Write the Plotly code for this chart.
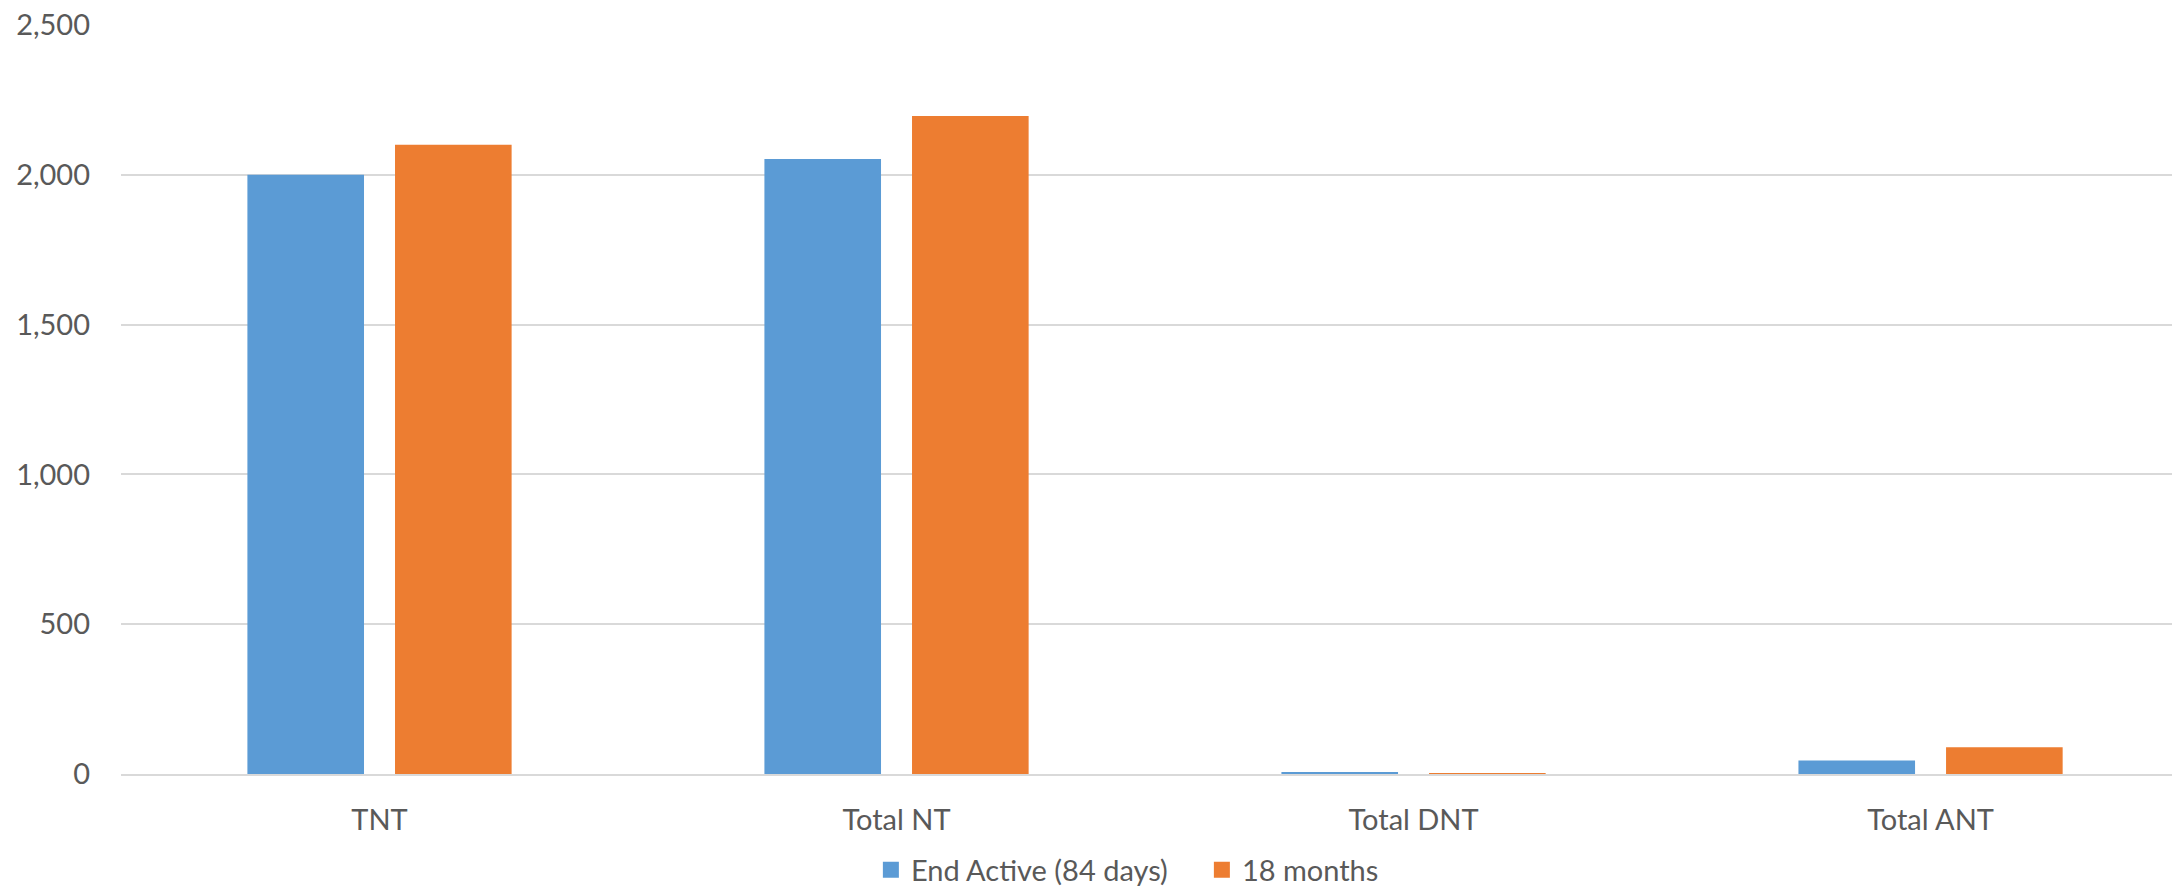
import plotly.graph_objects as go

categories = ["TNT", "Total NT", "Total DNT", "Total ANT"]
series_names = ["End Active (84 days)", "18 months"]
end_active = [2000, 2053, 6, 45]
months_18 = [2100, 2196, 3, 89]
y_ticks = [0, 500, 1000, 1500, 2000, 2500]

BLUE = "#5B9BD5"
ORANGE = "#ED7D31"
TEXT = "#595959"
GRID = "#D9D9D9"

fig = go.Figure()
for name, values, color in zip(series_names, [end_active, months_18], [BLUE, ORANGE]):
    fig.add_trace(go.Bar(name=name, x=categories, y=values, legendgroup=name,
                         showlegend=False, marker=dict(color=color, line=dict(width=0))))
    # legend key drawn as a larger square swatch
    fig.add_trace(go.Scatter(name=name, x=[None], y=[None], mode="markers",
                             legendgroup=name, showlegend=True,
                             marker=dict(symbol="square", size=16, color=color)))

fig.update_layout(
    width=2172, height=888,
    margin=dict(l=121, r=0, t=25, b=114, autoexpand=False),
    paper_bgcolor="white", plot_bgcolor="white",
    barmode="group", bargap=0.429, bargroupgap=0.21,
    font=dict(family="Lato, Calibri, sans-serif", size=29, color=TEXT),
    showlegend=True,
    legend=dict(orientation="h", x=0.527, xanchor="center", y=-0.1282, yanchor="middle",
                font=dict(size=29, color=TEXT), itemclick=False, traceorder="normal",
                itemwidth=30, tracegroupgap=0, entrywidth=286, entrywidthmode="pixels"),
    hovermode=False,
)
# the category axis runs a little past the right edge of the canvas
fig.update_xaxes(range=[-0.5, 3.467], showgrid=False, showline=True, linecolor=GRID,
                 linewidth=2, ticks="", ticklabelstandoff=19, fixedrange=True,
                 automargin=False)
fig.update_yaxes(range=[0, 2500], tickvals=y_ticks, tickformat=",", showgrid=True,
                 gridcolor=GRID, gridwidth=2, zeroline=False, showline=False,
                 ticks="", ticklabelstandoff=30, fixedrange=True, automargin=False)

fig.write_html("out.html")
